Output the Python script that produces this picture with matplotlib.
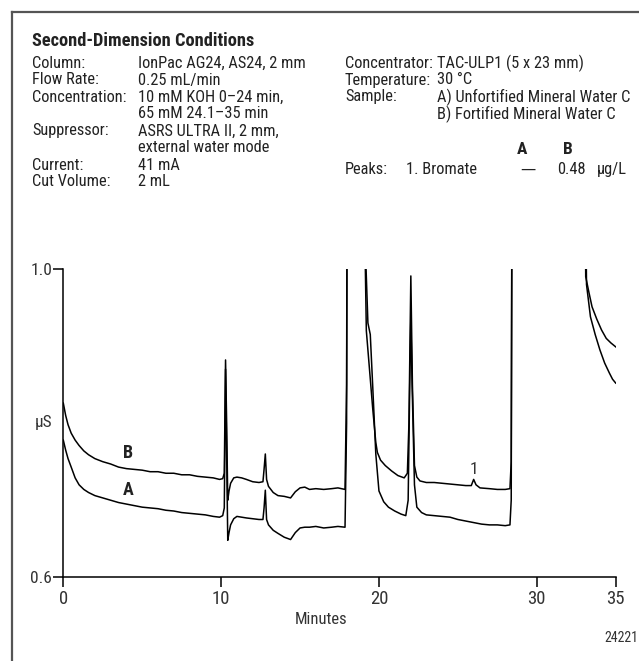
import matplotlib
matplotlib.use("Agg")
import matplotlib.pyplot as plt
import matplotlib.font_manager as fm
from matplotlib.lines import Line2D

avail = {f.name for f in fm.fontManager.ttflist}
FONT = "Liberation Sans"
for cand in ["Liberation Sans Narrow", "Roboto Condensed", "Open Sans Condensed", "Liberation Sans"]:
    if cand in avail:
        FONT = cand
        break
plt.rcParams["font.family"] = [FONT, "DejaVu Sans"]

# ---------------- data ----------------
OFF = 1.3  # off-scale (above 1.0 µS)
time_b = [0, 0.15, 0.3, 0.5, 0.75, 1.0, 1.3, 1.6, 2.0, 2.5, 3.0, 3.5, 4.0, 4.5, 5.0, 5.5, 6.0, 6.5,
          7.0, 7.5, 8.0, 8.5, 9.0, 9.5, 9.9, 10.1, 10.2, 10.28, 10.35, 10.42, 10.5, 10.6, 10.8, 11.0,
          11.3, 11.6, 12.0, 12.4, 12.65, 12.72, 12.8, 12.88, 13.0, 13.3, 13.6, 14.0, 14.4, 14.7, 15.0,
          15.3, 15.6, 16.0, 16.5, 17.0, 17.4, 17.85, 17.95, 18.0, 18.5, 19.0, 19.1, 19.2, 19.4, 19.6,
          19.8, 19.9, 20.1, 20.4, 20.8, 21.2, 21.6, 21.8, 21.9, 22.02, 22.12, 22.25, 22.4, 22.6, 23.0,
          23.5, 24.0, 24.5, 25.0, 25.5, 25.85, 26.0, 26.15, 26.4, 27.0, 27.5, 28.0, 28.3, 28.38, 28.45,
          30.0, 33.0, 33.1, 33.3, 33.5, 33.8, 34.1, 34.4, 34.7, 35.0]
signal_b = [0.826, 0.810, 0.798, 0.787, 0.778, 0.771, 0.764, 0.759, 0.754, 0.750, 0.747, 0.743, 0.741,
            0.740, 0.739, 0.737, 0.737, 0.735, 0.735, 0.733, 0.733, 0.731, 0.730, 0.729, 0.727, 0.728,
            0.735, 0.882, 0.800, 0.700, 0.712, 0.722, 0.729, 0.730, 0.729, 0.727, 0.724, 0.723, 0.724,
            0.740, 0.760, 0.727, 0.718, 0.710, 0.706, 0.705, 0.703, 0.711, 0.716, 0.717, 0.714, 0.715,
            0.714, 0.715, 0.716, 0.714, 0.850, OFF, OFF, OFF, 1.05, 0.92, 0.87, 0.82, 0.775, 0.762,
            0.752, 0.745, 0.738, 0.732, 0.729, 0.735, 0.800, 0.991, 0.850, 0.745, 0.730, 0.725, 0.723,
            0.723, 0.722, 0.721, 0.720, 0.719, 0.719, 0.727, 0.720, 0.716, 0.715, 0.714, 0.714, 0.715,
            0.750, OFF, OFF, OFF, 0.99, 0.97, 0.951, 0.935, 0.921, 0.910, 0.904, 0.899]

time_a = [0, 0.15, 0.3, 0.5, 0.75, 1.0, 1.3, 1.6, 2.0, 2.5, 3.0, 3.5, 4.0, 4.5, 5.0, 5.5, 6.0, 6.5,
          7.0, 7.5, 8.0, 8.5, 9.0, 9.5, 9.9, 10.1, 10.2, 10.28, 10.35, 10.42, 10.5, 10.6, 10.8, 11.0,
          11.3, 11.6, 12.0, 12.4, 12.65, 12.72, 12.8, 12.88, 13.0, 13.3, 13.6, 14.0, 14.4, 14.7, 15.0,
          15.3, 15.6, 16.0, 16.5, 17.0, 17.4, 17.85, 17.95, 18.0, 18.5, 19.0, 19.1, 19.3, 19.45, 19.6,
          19.8, 20.0, 20.3, 20.6, 21.0, 21.4, 21.7, 21.85, 21.95, 22.02, 22.1, 22.25, 22.4, 22.7, 23.0,
          23.5, 24.0, 24.5, 25.0, 25.5, 26.0, 26.5, 27.0, 27.5, 28.0, 28.3, 28.38, 28.45,
          30.0, 33.0, 33.15, 33.4, 33.7, 34.0, 34.3, 34.6, 34.8, 35.0]
signal_a = [0.778, 0.765, 0.754, 0.743, 0.729, 0.720, 0.714, 0.710, 0.706, 0.703, 0.700, 0.697, 0.695,
            0.693, 0.691, 0.690, 0.689, 0.687, 0.686, 0.684, 0.683, 0.682, 0.681, 0.679, 0.678, 0.680,
            0.690, 0.870, 0.760, 0.648, 0.658, 0.668, 0.676, 0.679, 0.678, 0.677, 0.676, 0.675, 0.675,
            0.690, 0.713, 0.675, 0.668, 0.661, 0.657, 0.652, 0.649, 0.658, 0.664, 0.665, 0.665, 0.666,
            0.664, 0.665, 0.666, 0.665, 0.800, OFF, OFF, OFF, 1.05, 0.93, 0.915, 0.85, 0.76, 0.712,
            0.698, 0.691, 0.686, 0.682, 0.680, 0.700, 0.850, 0.936, 0.850, 0.720, 0.691, 0.684, 0.681,
            0.680, 0.679, 0.678, 0.675, 0.673, 0.671, 0.669, 0.668, 0.668, 0.667, 0.668, 0.700, OFF,
            OFF, OFF, 0.98, 0.938, 0.915, 0.895, 0.878, 0.865, 0.857, 0.852]

x_ticks = [0, 10, 20, 30, 35]
y_ticks = [0.6, 1.0]
y_tick_labels = ["0.6", "1.0"]

W, H = 639, 661
fig = plt.figure(figsize=(W / 100, H / 100), dpi=100)

def fx(px):
    return px / W

def fy(py):
    return 1 - py / H

# frame (cropped box)
fig.add_artist(Line2D([fx(12), fx(12)], [fy(12), fy(H + 5)], color="#555555", lw=1.6))
fig.add_artist(Line2D([fx(12), fx(W + 5)], [fy(12), fy(12)], color="#555555", lw=1.6))

# ---------------- conditions text ----------------
fs = 11.8
tc = "#222222"
fig.text(fx(32), fy(41), "Second-Dimension Conditions", fontsize=13.2, fontweight="bold",
         va="center", ha="left", color=tc)
left_rows = [
    ("Column:", "IonPac AG24, AS24, 2 mm"),
    ("Flow Rate:", "0.25 mL/min"),
    ("Concentration:", "10 mM KOH 0\u201324 min,"),
    ("", "65 mM 24.1\u201335 min"),
    ("Suppressor:", "ASRS ULTRA II, 2 mm,"),
    ("", "external water mode"),
    ("Current:", "41 mA"),
    ("Cut Volume:", "2 mL"),
]
for i, (lab, val) in enumerate(left_rows):
    y = 63 + 17 * i
    fig.text(fx(32), fy(y), lab, fontsize=fs, va="center", ha="left", color=tc)
    fig.text(fx(138), fy(y), val, fontsize=fs, va="center", ha="left", color=tc)

right_rows = [
    ("Concentrator:", "TAC-ULP1 (5 x 23 mm)"),
    ("Temperature:", "30 \u00b0C"),
    ("Sample:", "A) Unfortified Mineral Water C"),
    ("", "B) Fortified Mineral Water C"),
]
for i, (lab, val) in enumerate(right_rows):
    y = 63 + 17 * i
    fig.text(fx(345), fy(y), lab, fontsize=fs, va="center", ha="left", color=tc)
    fig.text(fx(437), fy(y), val, fontsize=fs, va="center", ha="left", color=tc)

fig.text(fx(522), fy(150), "A", fontsize=12.5, fontweight="bold", va="center", ha="center", color=tc)
fig.text(fx(568), fy(150), "B", fontsize=12.5, fontweight="bold", va="center", ha="center", color=tc)
fig.text(fx(345), fy(169), "Peaks:", fontsize=fs, va="center", ha="left", color=tc)
fig.text(fx(406), fy(169), "1. Bromate", fontsize=fs, va="center", ha="left", color=tc)
fig.text(fx(528), fy(169), "\u2014", fontsize=11, va="center", ha="center", color=tc,
         family="DejaVu Sans")
fig.text(fx(557), fy(169), "0.48", fontsize=fs, va="center", ha="left", color=tc)
fig.text(fx(597), fy(169), "\u00b5g/L", fontsize=fs, va="center", ha="left", color=tc)

# ---------------- chromatogram ----------------
ax = fig.add_axes([fx(63.3), fy(577.3), fx(615.7) - fx(63.3), fy(269) - fy(577.3)])
ax.plot(time_b, signal_b, color="black", lw=1.1)
ax.plot(time_a, signal_a, color="black", lw=1.1)
ax.set_xlim(0, 35)
ax.set_ylim(0.6, 1.0)
ax.spines["top"].set_visible(False)
ax.spines["right"].set_visible(False)
for s in ("left", "bottom"):
    ax.spines[s].set_linewidth(1.1)
ax.set_xticks(x_ticks)
ax.set_xticklabels([str(t) for t in x_ticks])
ax.set_yticks(y_ticks)
ax.set_yticklabels(y_tick_labels)
ax.tick_params(axis="x", direction="out", length=7, width=1.1, labelsize=13.5, pad=2, colors="black",
               labelcolor="#333333")
ax.tick_params(axis="y", direction="out", length=7, width=1.1, labelsize=12.5, pad=1, colors="black",
               labelcolor="#333333")
ax.patch.set_alpha(0)

ax.text(4.08, 0.761, "B", fontsize=13, fontweight="bold", ha="center", va="center", color=tc)
ax.text(4.08, 0.713, "A", fontsize=13, fontweight="bold", ha="center", va="center", color=tc)
ax.text(26.0, 0.740, "1", fontsize=12.5, ha="center", va="center", color="#333333")

fig.text(fx(44), fy(422), "\u00b5S", fontsize=12.5, ha="center", va="center", color="#333333")
fig.text(fx(321), fy(619), "Minutes", fontsize=12, ha="center", va="center", color="#333333")
fig.text(fx(638), fy(638), "24221", fontsize=10, ha="right", va="center", color="#333333")

fig.savefig("out.png", dpi=100)
